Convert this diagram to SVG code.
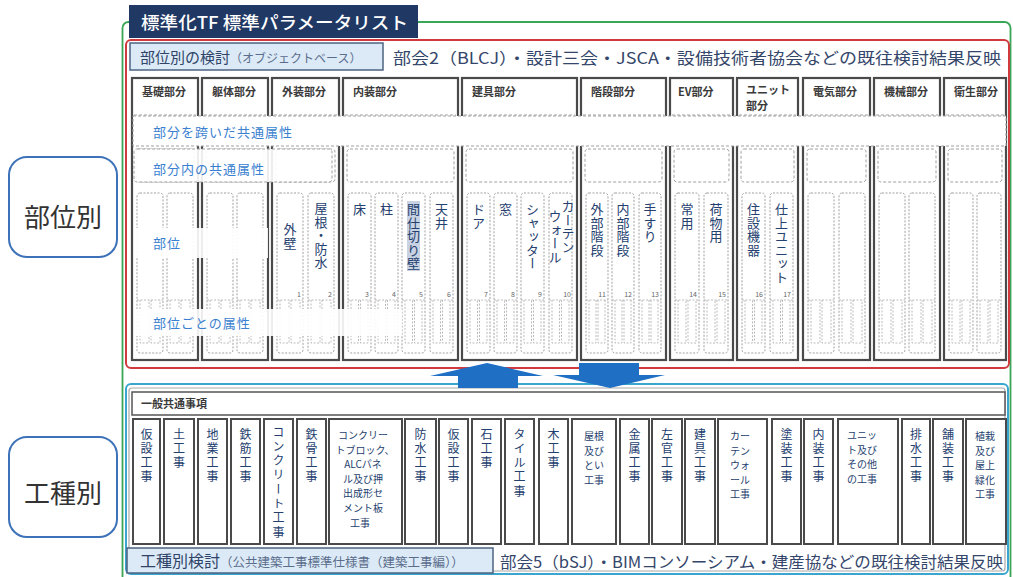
<svg xmlns="http://www.w3.org/2000/svg" width="1013" height="577" viewBox="0 0 1013 577">
<style>
text { font-family: "Noto Sans CJK JP", "Noto Sans", sans-serif; }
.colbox { fill: #fff; stroke: #4a4a4a; stroke-width: 2.2; }
.hdr { font-size: 11px; font-weight: bold; fill: #3a3a3a; }
.hl { stroke: #a0a0a0; stroke-width: 1; stroke-dasharray: 3 2; fill: none; }
.inb { fill: #fff; stroke: #a0a0a0; stroke-width: 1; stroke-dasharray: 3 2; }
.sc { fill: #fff; stroke: #a0a0a0; stroke-width: 1; stroke-dasharray: 2 1.5; }
.sa { fill: none; stroke: #ababab; stroke-width: 0.8; stroke-dasharray: 2 1.5; }
.v { writing-mode: vertical-rl; font-size: 13px; fill: #24406e; letter-spacing: 0.5px; }
.num { font-size: 7px; fill: #666; text-anchor: end; }
.lbl { font-size: 13px; fill: #3a7fd0; letter-spacing: 1px; }
.wk { fill: #fff; stroke: #4a4a4a; stroke-width: 2; }
.wv { writing-mode: vertical-rl; font-size: 12px; letter-spacing: 2.3px; fill: #24406e; }
.wh { font-size: 10px; fill: #24406e; text-anchor: middle; }
.side { fill: #fff; stroke: #3d72b8; stroke-width: 2; }
.sidet { font-size: 26px; fill: #333; text-anchor: middle; }
.arrow { fill: #1f6fc5; }
.tabbox { fill: #dceaf7; stroke: #4d6380; stroke-width: 1.5; }
.ref { font-size: 16px; fill: #34466a; }
</style>
<rect x="0" y="0" width="1013" height="577" fill="#fff"/>

<g id="frame-green"><rect x="122.5" y="22" width="888" height="562" rx="6" fill="none" stroke="#3aa655" stroke-width="1.8"/></g>

<g id="side-buibetsu"><rect class="side" x="9" y="157" width="108" height="100" rx="18"/><text class="sidet" x="63" y="227">部位別</text></g>
<g id="side-koshubetsu"><rect class="side" x="9" y="437" width="108" height="100" rx="18"/><text class="sidet" x="63" y="503">工種別</text></g>

<g id="frame-red"><rect x="126" y="40" width="883" height="328" rx="5" fill="none" stroke="#d03a3f" stroke-width="2"/></g>

<g id="title"><rect x="129" y="5" width="289" height="33" fill="#1f3864"/><text x="141" y="29" font-size="17" font-weight="500" fill="#fff" textLength="267" lengthAdjust="spacingAndGlyphs">標準化TF 標準パラメータリスト</text></g>

<g id="buibetsu-header"><rect class="tabbox" x="130" y="43" width="253" height="27"/><text x="140" y="63" font-size="15" fill="#2f4468">部位別の検討<tspan font-size="12" fill="#5a6d8c">（オブジェクトベース）</tspan></text><text class="ref" x="393" y="64" font-size="17" textLength="608" lengthAdjust="spacingAndGlyphs">部会2（BLCJ）・設計三会・JSCA・設備技術者協会などの既往検討結果反映</text></g>

<g id="col-kiso">
<rect class="colbox" x="132" y="78" width="66" height="282"/><text class="hdr" x="142" y="96">基礎部分</text><path class="hl" d="M134 115h62"/>
<rect class="inb" x="136" y="149" width="58" height="33" rx="3"/>
<rect class="sc" x="137" y="193" width="26" height="160" rx="3"/><rect class="sc" x="167" y="193" width="26" height="160" rx="3"/>
<path class="sa" d="M137 300h26M140 300v43h9v-43M151 300v43h9v-43M167 300h26M170 300v43h9v-43M181 300v43h9v-43"/>
</g>
<g id="col-kutai">
<rect class="colbox" x="202" y="78" width="66" height="282"/><text class="hdr" x="212" y="96">躯体部分</text><path class="hl" d="M204 115h62"/>
<rect class="inb" x="206" y="149" width="58" height="33" rx="3"/>
<rect class="sc" x="207" y="193" width="26" height="160" rx="3"/><rect class="sc" x="237" y="193" width="26" height="160" rx="3"/>
<path class="sa" d="M207 300h26M210 300v43h9v-43M221 300v43h9v-43M237 300h26M240 300v43h9v-43M251 300v43h9v-43"/>
</g>
<g id="col-gaiso">
<rect class="colbox" x="272" y="78" width="67" height="282"/><text class="hdr" x="282" y="96">外装部分</text><path class="hl" d="M274 115h63"/>
<rect class="inb" x="276" y="149" width="59" height="33" rx="3"/>
<rect class="sc" x="277" y="193" width="26" height="160" rx="3"/><rect class="sc" x="308" y="193" width="26" height="160" rx="3"/>
<path class="sa" d="M277 300h26M280 300v43h9v-43M291 300v43h9v-43M308 300h26M311 300v43h9v-43M322 300v43h9v-43"/>
<text class="v" x="290" y="223">外壁</text><text class="v" x="321" y="202">屋根・防水</text>
<text class="num" x="301" y="297">1</text><text class="num" x="332" y="297">2</text>
</g>
<g id="col-naiso">
<rect class="colbox" x="343" y="78" width="115" height="282"/><text class="hdr" x="353" y="96">内装部分</text><path class="hl" d="M345 115h111"/>
<rect class="inb" x="347" y="149" width="107" height="33" rx="3"/>
<rect class="sc" x="348" y="193" width="23" height="160" rx="3"/><rect class="sc" x="375" y="193" width="23" height="160" rx="3"/><rect class="sc" x="402" y="193" width="23" height="160" rx="3"/><rect class="sc" x="430" y="193" width="23" height="160" rx="3"/>
<path class="sa" d="M348 300h23M351 300v43h7.5v-43M360.5 300v43h7.5v-43M375 300h23M378 300v43h7.5v-43M387.5 300v43h7.5v-43M402 300h23M405 300v43h7.5v-43M414.5 300v43h7.5v-43M430 300h23M433 300v43h7.5v-43M442.5 300v43h7.5v-43"/>
<rect x="407" y="201" width="13" height="70" fill="#c8d2e2"/>
<text class="v" x="359.5" y="203">床</text><text class="v" x="386.5" y="203">柱</text><text class="v" x="413.5" y="203">間仕切り壁</text><text class="v" x="441.5" y="203">天井</text>
<text class="num" x="369" y="297">3</text><text class="num" x="396" y="297">4</text><text class="num" x="423" y="297">5</text><text class="num" x="451" y="297">6</text>
</g>
<g id="col-tategu">
<rect class="colbox" x="462" y="78" width="115" height="282"/><text class="hdr" x="472" y="96">建具部分</text><path class="hl" d="M464 115h111"/>
<rect class="inb" x="466" y="149" width="107" height="33" rx="3"/>
<rect class="sc" x="467" y="193" width="23" height="160" rx="3"/><rect class="sc" x="494" y="193" width="23" height="160" rx="3"/><rect class="sc" x="521" y="193" width="23" height="160" rx="3"/><rect class="sc" x="549" y="193" width="23" height="160" rx="3"/>
<path class="sa" d="M467 300h23M470 300v43h7.5v-43M479.5 300v43h7.5v-43M494 300h23M497 300v43h7.5v-43M506.5 300v43h7.5v-43M521 300h23M524 300v43h7.5v-43M533.5 300v43h7.5v-43M549 300h23M552 300v43h7.5v-43M561.5 300v43h7.5v-43"/>
<text class="v" x="478.5" y="203">ドア</text><text class="v" x="505.5" y="203">窓</text><text class="v" x="532.5" y="203">シャッター</text><text class="v" x="568" y="200" font-size="12">カーテン</text><text class="v" x="555" y="210" font-size="12">ウォール</text>
<text class="num" x="488" y="297">7</text><text class="num" x="515" y="297">8</text><text class="num" x="542" y="297">9</text><text class="num" x="571" y="297">10</text>
</g>
<g id="col-kaidan">
<rect class="colbox" x="581" y="78" width="85" height="282"/><text class="hdr" x="591" y="96">階段部分</text><path class="hl" d="M583 115h81"/>
<rect class="inb" x="585" y="149" width="77" height="33" rx="3"/>
<rect class="sc" x="586" y="193" width="22" height="160" rx="3"/><rect class="sc" x="612" y="193" width="22" height="160" rx="3"/><rect class="sc" x="639" y="193" width="22" height="160" rx="3"/>
<path class="sa" d="M586 300h22M589 300v43h7v-43M598 300v43h7v-43M612 300h22M615 300v43h7v-43M624 300v43h7v-43M639 300h22M642 300v43h7v-43M651 300v43h7v-43"/>
<text class="v" x="597" y="203">外部階段</text><text class="v" x="623" y="203">内部階段</text><text class="v" x="650" y="203">手すり</text>
<text class="num" x="606" y="297">11</text><text class="num" x="632" y="297">12</text><text class="num" x="659" y="297">13</text>
</g>
<g id="col-ev">
<rect class="colbox" x="670" y="78" width="63" height="282"/><text class="hdr" x="678" y="96">EV部分</text><path class="hl" d="M672 115h59"/>
<rect class="inb" x="674" y="149" width="55" height="33" rx="3"/>
<rect class="sc" x="675" y="193" width="24" height="160" rx="3"/><rect class="sc" x="704" y="193" width="24" height="160" rx="3"/>
<path class="sa" d="M675 300h24M678 300v43h8v-43M688 300v43h8v-43M704 300h24M707 300v43h8v-43M717 300v43h8v-43"/>
<text class="v" x="687" y="203">常用</text><text class="v" x="716" y="203">荷物用</text>
<text class="num" x="697" y="297">14</text><text class="num" x="726" y="297">15</text>
</g>
<g id="col-unit">
<rect class="colbox" x="737" y="78" width="61" height="282"/><text class="hdr" x="746" y="94" font-size="10.5">ユニット<tspan x="746" dy="15.5">部分</tspan></text><path class="hl" d="M739 115h57"/>
<rect class="inb" x="741" y="149" width="53" height="33" rx="3"/>
<rect class="sc" x="742" y="193" width="23" height="160" rx="3"/><rect class="sc" x="770" y="193" width="23" height="160" rx="3"/>
<path class="sa" d="M742 300h23M745 300v43h7.5v-43M754.5 300v43h7.5v-43M770 300h23M773 300v43h7.5v-43M782.5 300v43h7.5v-43"/>
<text class="v" x="753.5" y="203">住設機器</text><text class="v" x="781.5" y="203">仕上ユニット</text>
<text class="num" x="763" y="297">16</text><text class="num" x="791" y="297">17</text>
</g>
<g id="col-denki">
<rect class="colbox" x="803" y="78" width="67" height="282"/><text class="hdr" x="813" y="96">電気部分</text><path class="hl" d="M805 115h63"/>
<rect class="inb" x="807" y="149" width="59" height="33" rx="3"/>
<rect class="sc" x="808" y="193" width="26" height="160" rx="3"/><rect class="sc" x="839" y="193" width="26" height="160" rx="3"/>
<path class="sa" d="M808 300h26M811 300v43h9v-43M822 300v43h9v-43M839 300h26M842 300v43h9v-43M853 300v43h9v-43"/>
</g>
<g id="col-kikai">
<rect class="colbox" x="874" y="78" width="66" height="282"/><text class="hdr" x="884" y="96">機械部分</text><path class="hl" d="M876 115h62"/>
<rect class="inb" x="878" y="149" width="58" height="33" rx="3"/>
<rect class="sc" x="879" y="193" width="26" height="160" rx="3"/><rect class="sc" x="909" y="193" width="26" height="160" rx="3"/>
<path class="sa" d="M879 300h26M882 300v43h9v-43M893 300v43h9v-43M909 300h26M912 300v43h9v-43M923 300v43h9v-43"/>
</g>
<g id="col-eisei">
<rect class="colbox" x="944" y="78" width="62" height="282"/><text class="hdr" x="954" y="96">衛生部分</text><path class="hl" d="M946 115h58"/>
<rect class="inb" x="948" y="149" width="54" height="33" rx="3"/>
<rect class="sc" x="949" y="193" width="24" height="160" rx="3"/><rect class="sc" x="977" y="193" width="24" height="160" rx="3"/>
<path class="sa" d="M949 300h24M952 300v43h8v-43M962 300v43h8v-43M977 300h24M980 300v43h8v-43M990 300v43h8v-43"/>
</g>

<g id="band-kyotsu"><rect x="133" y="116" width="873" height="30" fill="#fff" stroke="#a0a0a0" stroke-width="1" stroke-dasharray="3 2"/><text class="lbl" x="153" y="137">部分を跨いだ共通属性</text></g>
<g id="label-bubunnai"><rect x="134" y="149" width="198" height="33" rx="3" fill="#fff" fill-opacity="0.9" stroke="#a0a0a0" stroke-dasharray="3 2"/><text class="lbl" x="153" y="174">部分内の共通属性</text></g>
<g id="label-bui"><rect x="136" y="228" width="132" height="30" fill="#fff" fill-opacity="0.9"/><text class="lbl" x="153" y="248">部位</text></g>
<g id="label-zokusei"><rect x="134" y="309" width="268" height="27" fill="#fff" fill-opacity="0.9"/><text class="lbl" x="153" y="328">部位ごとの属性</text></g>

<g id="frame-koshu"><rect x="126" y="384" width="882" height="190" rx="5" fill="none" stroke="#3aa5cf" stroke-width="2"/><rect x="129" y="388" width="876" height="183" rx="3" fill="none" stroke="#a8a8a8" stroke-width="1.2"/></g>
<g id="ippan"><rect x="132" y="392" width="873" height="23" fill="#fff" stroke="#555" stroke-width="1.5"/><text x="141" y="408" font-size="11" font-weight="bold" fill="#3a3a3a">一般共通事項</text></g>

<g id="work-1"><rect class="wk" x="133" y="419" width="27" height="125"/><text class="wv" x="146.5" y="428">仮設工事</text></g>
<g id="work-2"><rect class="wk" x="164" y="419" width="30" height="125"/><text class="wv" x="179" y="428">土工事</text></g>
<g id="work-3"><rect class="wk" x="198" y="419" width="29" height="125"/><text class="wv" x="212.5" y="428">地業工事</text></g>
<g id="work-4"><rect class="wk" x="231" y="419" width="29" height="125"/><text class="wv" x="245.5" y="428">鉄筋工事</text></g>
<g id="work-5"><rect class="wk" x="264" y="419" width="29" height="125"/><text class="wv" x="278.5" y="426">コンクリート工事</text></g>
<g id="work-6"><rect class="wk" x="297" y="419" width="29" height="125"/><text class="wv" x="311.5" y="428">鉄骨工事</text></g>
<g id="work-7"><rect class="wk" x="329" y="419" width="73" height="125"/><text class="wh" x="363" y="439">コンクリー<tspan x="365" dy="14.6">トブロック、</tspan><tspan x="363" dy="14.6">ALCパネ</tspan><tspan x="363" dy="14.6">ル及び押</tspan><tspan x="363" dy="14.6">出成形セ</tspan><tspan x="363" dy="14.6">メント板</tspan><tspan x="360" dy="14.6">工事</tspan></text></g>
<g id="work-8"><rect class="wk" x="405" y="419" width="31" height="125"/><text class="wv" x="420.5" y="428">防水工事</text></g>
<g id="work-9"><rect class="wk" x="439" y="419" width="29" height="125"/><text class="wv" x="453.5" y="428">仮設工事</text></g>
<g id="work-10"><rect class="wk" x="472" y="419" width="29" height="125"/><text class="wv" x="486.5" y="428">石工事</text></g>
<g id="work-11"><rect class="wk" x="505" y="419" width="29" height="125"/><text class="wv" x="519.5" y="428">タイル工事</text></g>
<g id="work-12"><rect class="wk" x="539" y="419" width="29" height="125"/><text class="wv" x="553.5" y="428">木工事</text></g>
<g id="work-13"><rect class="wk" x="572" y="419" width="44" height="125"/><text class="wh" x="594" y="440">屋根<tspan x="594" dy="14.6">及び</tspan><tspan x="594" dy="14.6">とい</tspan><tspan x="594" dy="14.6">工事</tspan></text></g>
<g id="work-14"><rect class="wk" x="620" y="419" width="29" height="125"/><text class="wv" x="634.5" y="428">金属工事</text></g>
<g id="work-15"><rect class="wk" x="652" y="419" width="30" height="125"/><text class="wv" x="667" y="428">左官工事</text></g>
<g id="work-16"><rect class="wk" x="685" y="419" width="30" height="125"/><text class="wv" x="700" y="428">建具工事</text></g>
<g id="work-17"><rect class="wk" x="718" y="419" width="49" height="125"/><text class="wh" x="740" y="440">カー<tspan x="740" dy="14.6">テン</tspan><tspan x="740" dy="14.6">ウォ</tspan><tspan x="740" dy="14.6">ール</tspan><tspan x="740" dy="14.6">工事</tspan></text></g>
<g id="work-18"><rect class="wk" x="772" y="419" width="29" height="125"/><text class="wv" x="786.5" y="428">塗装工事</text></g>
<g id="work-19"><rect class="wk" x="804" y="419" width="29" height="125"/><text class="wv" x="818.5" y="428">内装工事</text></g>
<g id="work-20"><rect class="wk" x="838" y="419" width="60" height="125"/><text class="wh" x="862" y="439">ユニッ<tspan x="862" dy="14.6">ト及び</tspan><tspan x="862" dy="14.6">その他</tspan><tspan x="862" dy="14.6">の工事</tspan></text></g>
<g id="work-21"><rect class="wk" x="902" y="419" width="28" height="125"/><text class="wv" x="916" y="428">排水工事</text></g>
<g id="work-22"><rect class="wk" x="933" y="419" width="30" height="125"/><text class="wv" x="948" y="428">舗装工事</text></g>
<g id="work-23"><rect class="wk" x="966" y="419" width="40" height="125"/><text class="wh" x="985" y="440">植栽<tspan x="985" dy="14.6">及び</tspan><tspan x="985" dy="14.6">屋上</tspan><tspan x="985" dy="14.6">緑化</tspan><tspan x="985" dy="14.6">工事</tspan></text></g>

<g id="koshu-header"><rect class="tabbox" x="127" y="548" width="366" height="25"/><text x="140" y="567" font-size="16" fill="#2f4468">工種別検討<tspan font-size="12.5" fill="#5a6d8c">（公共建築工事標準仕様書（建築工事編））</tspan></text><text class="ref" x="500" y="568" textLength="503" lengthAdjust="spacingAndGlyphs">部会5（bSJ）・BIMコンソーシアム・建産協などの既往検討結果反映</text></g>

<g id="connectors">
<polygon class="arrow" points="487,363 543,376 518,376 518,388 458,388 458,376 430,376"/>
<polygon class="arrow" points="579,363 639,363 639,375 665,375 610,388 553,375 579,375"/>
</g>
</svg>
